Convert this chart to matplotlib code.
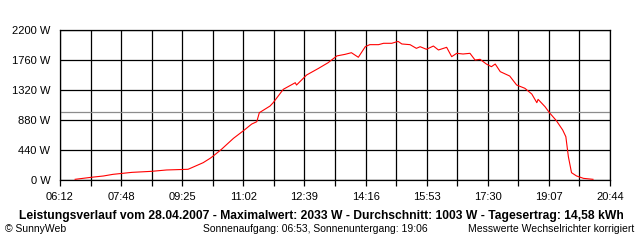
import matplotlib
matplotlib.use("Agg")
import matplotlib.pyplot as plt
import numpy as np

# power curve (time of day, watts)
times = [
    "06:36", "07:02", "07:21", "07:36", "08:06", "08:37", "09:01", "09:35",
    "09:41", "09:59", "10:10", "10:15", "10:28", "10:47", "11:03", "11:16",
    "11:24", "11:28", "11:45", "11:50", "12:06", "12:25", "12:27", "12:43",
    "13:02", "13:17", "13:31", "13:44", "13:54", "14:05", "14:16", "14:23",
    "14:37", "14:45", "14:58", "15:08", "15:14", "15:27", "15:37", "15:43",
    "15:53", "16:04", "16:12", "16:25", "16:33", "16:41", "16:51", "17:02",
    "17:10", "17:18", "17:28", "17:36", "17:42", "17:50", "18:05", "18:16",
    "18:29", "18:40", "18:48", "18:50", "19:01", "19:08", "19:19", "19:29",
    "19:34", "19:38", "19:43", "19:51", "20:02", "20:17",
]
power = [
    10, 40, 59, 83, 112, 127, 147, 157,
    181, 254, 318, 352, 450, 611, 724, 821,
    855, 987, 1085, 1134, 1330, 1427, 1393, 1540,
    1638, 1720, 1820, 1843, 1867, 1800, 1955, 1985,
    1985, 2005, 2005, 2033, 1995, 1985, 1931, 1955,
    1917, 1965, 1907, 1946, 1809, 1858, 1848, 1858,
    1760, 1770, 1701, 1662, 1701, 1589, 1525, 1393,
    1345, 1261, 1134, 1183, 1075, 987, 870, 733,
    635, 342, 107, 59, 24, 10,
]
average = 1003

x_start, x_end = "06:12", "20:44"
x_labels = ["06:12", "07:48", "09:25", "11:02", "12:39", "14:16",
            "15:53", "17:30", "19:07", "20:44"]
y_ticks = [0, 440, 880, 1320, 1760, 2200]

title = ("Leistungsverlauf vom 28.04.2007 - Maximalwert: 2033 W - "
         "Durchschnitt: 1003 W - Tagesertrag: 14,58 kWh")
footer_left = "\u00a9 SunnyWeb"
footer_mid = "Sonnenaufgang: 06:53, Sonnenuntergang: 19:06"
footer_right = "Messwerte Wechselrichter korrigiert"


def to_min(s):
    h, m = s.split(":")
    return int(h) * 60 + int(m)


plt.rcParams["font.family"] = ["Liberation Sans", "DejaVu Sans"]

t = np.array([to_min(s) for s in times])
t0, t1 = to_min(x_start), to_min(x_end)

fig = plt.figure(figsize=(6.4, 2.4), dpi=100)
ax = fig.add_axes([60 / 640, 0.25, 550 / 640, 0.625])

# 18 grid divisions, every second one labelled
grid_x = np.linspace(t0, t1, 19)
for xv in grid_x:
    ax.axvline(xv, color="black", lw=0.9, zorder=1)
for yv in y_ticks:
    ax.axhline(yv, color="black", lw=0.9, zorder=1)
ax.axhline(average, color="#8c8c8c", lw=0.9, zorder=2)

ax.plot(t, power, color="#ff0000", lw=0.8, zorder=3)

ax.set_xlim(t0, t1)
ax.set_ylim(0, 2200)
ax.set_xticks(grid_x)
ax.set_xticklabels([x_labels[i // 2] if i % 2 == 0 else "" for i in range(19)])
ax.set_yticks(y_ticks)
ax.set_yticklabels([f"{v} W" for v in y_ticks])
ax.tick_params(axis="x", length=4, width=0.9, pad=5, labelsize=8)
ax.tick_params(axis="y", length=0, pad=7, labelsize=8)
for sp in ax.spines.values():
    sp.set_linewidth(0.9)

fig.text(0.5 + 1 / 640, 1 - 216 / 240, title, ha="center", va="center",
         fontsize=8.7, fontweight="bold")
fig.text(5 / 640, 1 - 229 / 240, footer_left, ha="left", va="center",
         fontsize=7.5)
fig.text(203 / 640, 1 - 229 / 240, footer_mid, ha="left", va="center",
         fontsize=7.5)
fig.text(634 / 640, 1 - 229 / 240, footer_right, ha="right", va="center",
         fontsize=7.5)

fig.savefig("out.png", dpi=100, facecolor="white")
